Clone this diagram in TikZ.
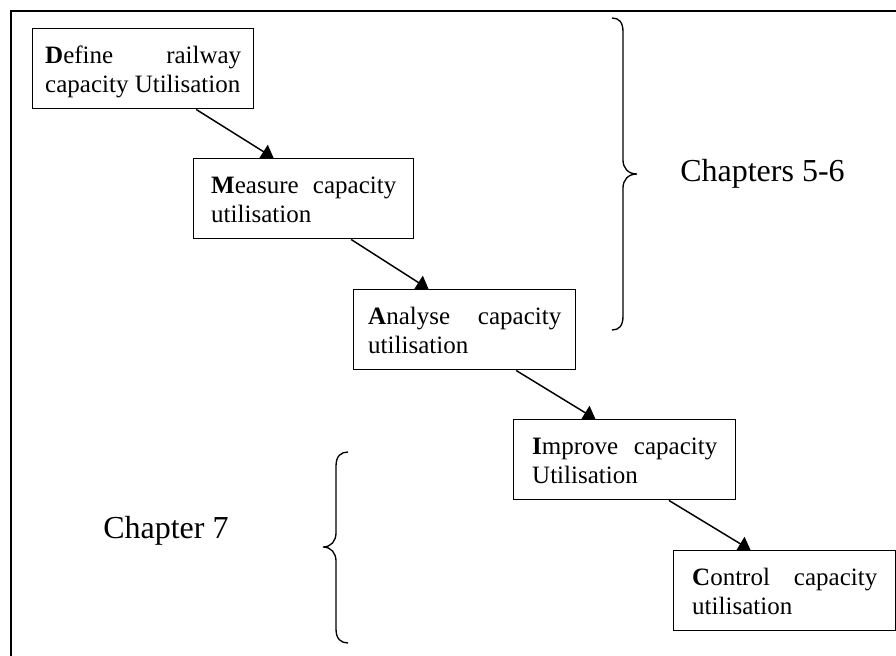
\documentclass[tikz,border=0pt]{standalone}
\usepackage{fontspec}
\setmainfont{Liberation Serif}
\usetikzlibrary{calc,arrows.meta}

% first line of a stage box, spread over the given width
\newcommand\fullline[2]{\makebox[#1][s]{#2\rule{0pt}{18.75pt}}}
\newcommand\lastline[1]{#1\rule[-4.5pt]{0pt}{4.5pt}}

\tikzset{
  stage/.style={draw, line width=1.1pt, anchor=north west, minimum height=60pt,
    inner ysep=0pt, align=left, font=\fontsize{18.75}{21.75}\selectfont},
  conn/.style={line width=1.1pt, -{Triangle[width=12pt,length=9pt]}},
  bracepath/.style={line width=1pt},
  chapter/.style={anchor=base west, inner sep=0pt, font=\fontsize{24}{28}\selectfont}
}

\begin{document}
\begin{tikzpicture}[x=0.75pt,y=-0.75pt]
  \useasboundingbox (0,0) rectangle (896,656);
  \clip (0,0) rectangle (896,656);

  % outer frame
  \draw[line width=1.5pt] (11,11) rectangle (1000,1000);

  % process stages
  \node[stage, inner xsep=9.375pt] (define) at (32,28)
    {\fullline{147pt}{\textbf{D}efine railway}\\\lastline{capacity Utilisation}};
  \node[stage, inner xsep=13.125pt] (measure) at (193,158)
    {\fullline{138.75pt}{\textbf{M}easure capacity}\\\lastline{utilisation}};
  \node[stage, inner xsep=10.875pt] (analyse) at (353,289)
    {\fullline{144.75pt}{\textbf{A}nalyse capacity}\\\lastline{utilisation}};
  \node[stage, inner xsep=13.875pt] (improve) at (513,419)
    {\fullline{138.75pt}{\textbf{I}mprove capacity}\\\lastline{Utilisation}};
  \node[stage, inner xsep=13.875pt] (control) at (673,550)
    {\fullline{138.75pt}{\textbf{C}ontrol capacity}\\\lastline{utilisation}};

  % connectors between stages
  \draw[conn] ($(define.south west)!0.738!(define.south east)$)
           -- ($(measure.north west)!0.364!(measure.north east)$);
  \draw[conn] ($(measure.south west)!0.714!(measure.south east)$)
           -- ($(analyse.north west)!0.338!(analyse.north east)$);
  \draw[conn] ($(analyse.south west)!0.73!(analyse.south east)$)
           -- ($(improve.north west)!0.369!(improve.north east)$);
  \draw[conn] ($(improve.south west)!0.698!(improve.south east)$)
           -- ($(control.north west)!0.347!(control.north east)$);

  % brace for chapters 5-6
  \draw[bracepath] (612,18) .. controls (619,18) and (623,22) .. (623,32)
    -- (623,160) .. controls (623,168) and (628,174) .. (637,174)
    .. controls (628,174) and (623,180) .. (623,188)
    -- (623,316) .. controls (623,326) and (619,330) .. (612,330);
  \node[chapter] (ch56) at (680,182) {Chapters 5-6};

  % brace for chapter 7
  \draw[bracepath] (348,452) .. controls (341,452) and (336,456) .. (336,466)
    -- (336,533) .. controls (336,541) and (331,547) .. (323,547)
    .. controls (331,547) and (336,553) .. (336,561)
    -- (336,629) .. controls (336,639) and (341,643) .. (348,643);
  \node[chapter] (ch7) at (103,538) {Chapter 7};
\end{tikzpicture}
\end{document}
